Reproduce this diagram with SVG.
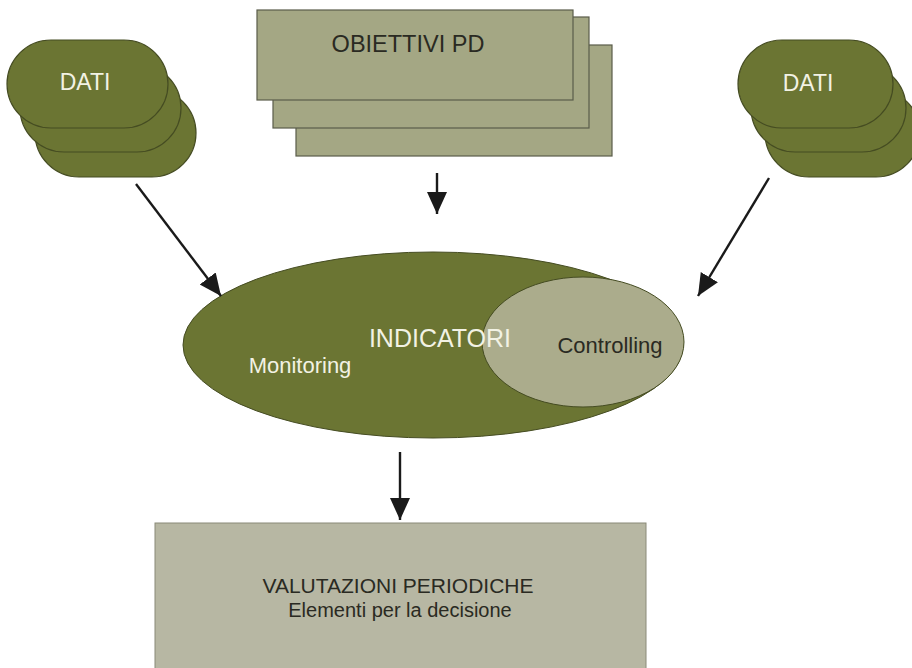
<svg xmlns="http://www.w3.org/2000/svg" width="912" height="668" viewBox="0 0 912 668">
<defs>
<marker id="ah" markerUnits="userSpaceOnUse" markerWidth="24" markerHeight="22" refX="22" refY="10" orient="auto">
<path d="M0,0 L22,10 L0,20 Z" fill="#1a1a1a"/>
</marker>
<style>
.dati{fill:#6b7533;stroke:#454c22;stroke-width:1.2}
.obj{fill:#a4a784;stroke:#5a5c4a;stroke-width:1.2}
.lbl{font-family:"Liberation Sans",Arial,sans-serif}
.light{fill:#f2f2e4}
.dark{fill:#2a2a22}
.conn{stroke:#1a1a1a;stroke-width:2.4;fill:none;marker-end:url(#ah)}
</style>
</defs>
<rect width="912" height="668" fill="#ffffff"/>
<g id="dati-left">
<rect class="dati" x="35" y="89" width="161" height="88" rx="44" ry="44"/>
<rect class="dati" x="20" y="64" width="161" height="88" rx="44" ry="44"/>
<rect class="dati" x="7" y="40" width="161" height="88" rx="44" ry="44"/>
<text class="lbl light" x="85" y="90" font-size="23" text-anchor="middle">DATI</text>
</g>
<g id="dati-right">
<rect class="dati" x="765" y="89" width="155" height="88" rx="44" ry="44"/>
<rect class="dati" x="751" y="64" width="155" height="88" rx="44" ry="44"/>
<rect class="dati" x="738" y="40" width="155" height="88" rx="44" ry="44"/>
<text class="lbl light" x="808" y="91" font-size="23" text-anchor="middle">DATI</text>
</g>
<g id="obiettivi">
<rect class="obj" x="296" y="45" width="316" height="111"/>
<rect class="obj" x="273" y="17" width="316" height="111"/>
<rect class="obj" x="257" y="10" width="316" height="90"/>
<text class="lbl dark" x="408" y="52" font-size="23.5" text-anchor="middle">OBIETTIVI PD</text>
</g>
<g id="indicatori">
<ellipse cx="433" cy="345" rx="250" ry="93" fill="#6b7533" stroke="#454c22" stroke-width="1"/>
<ellipse cx="583" cy="342" rx="101" ry="65" fill="#abac8c" stroke="#454c22" stroke-width="1"/>
<text class="lbl light" x="440" y="347" font-size="25" text-anchor="middle">INDICATORI</text>
<text class="lbl light" x="300" y="373" font-size="22" text-anchor="middle">Monitoring</text>
<text class="lbl dark" x="610" y="353" font-size="22" text-anchor="middle">Controlling</text>
</g>
<g id="valutazioni">
<rect x="155" y="523" width="491" height="160" fill="#b7b7a3" stroke="#8a8a78" stroke-width="1"/>
<text class="lbl dark" x="398" y="593" font-size="21" text-anchor="middle">VALUTAZIONI PERIODICHE</text>
<text class="lbl dark" x="400" y="617" font-size="20" text-anchor="middle">Elementi per la decisione</text>
</g>
<g id="connectors">
<line class="conn" x1="136" y1="184" x2="221" y2="296"/>
<line class="conn" x1="437" y1="173" x2="437" y2="214"/>
<line class="conn" x1="769" y1="178" x2="698" y2="296"/>
<line class="conn" x1="400" y1="452" x2="400" y2="520"/>
</g>
</svg>
